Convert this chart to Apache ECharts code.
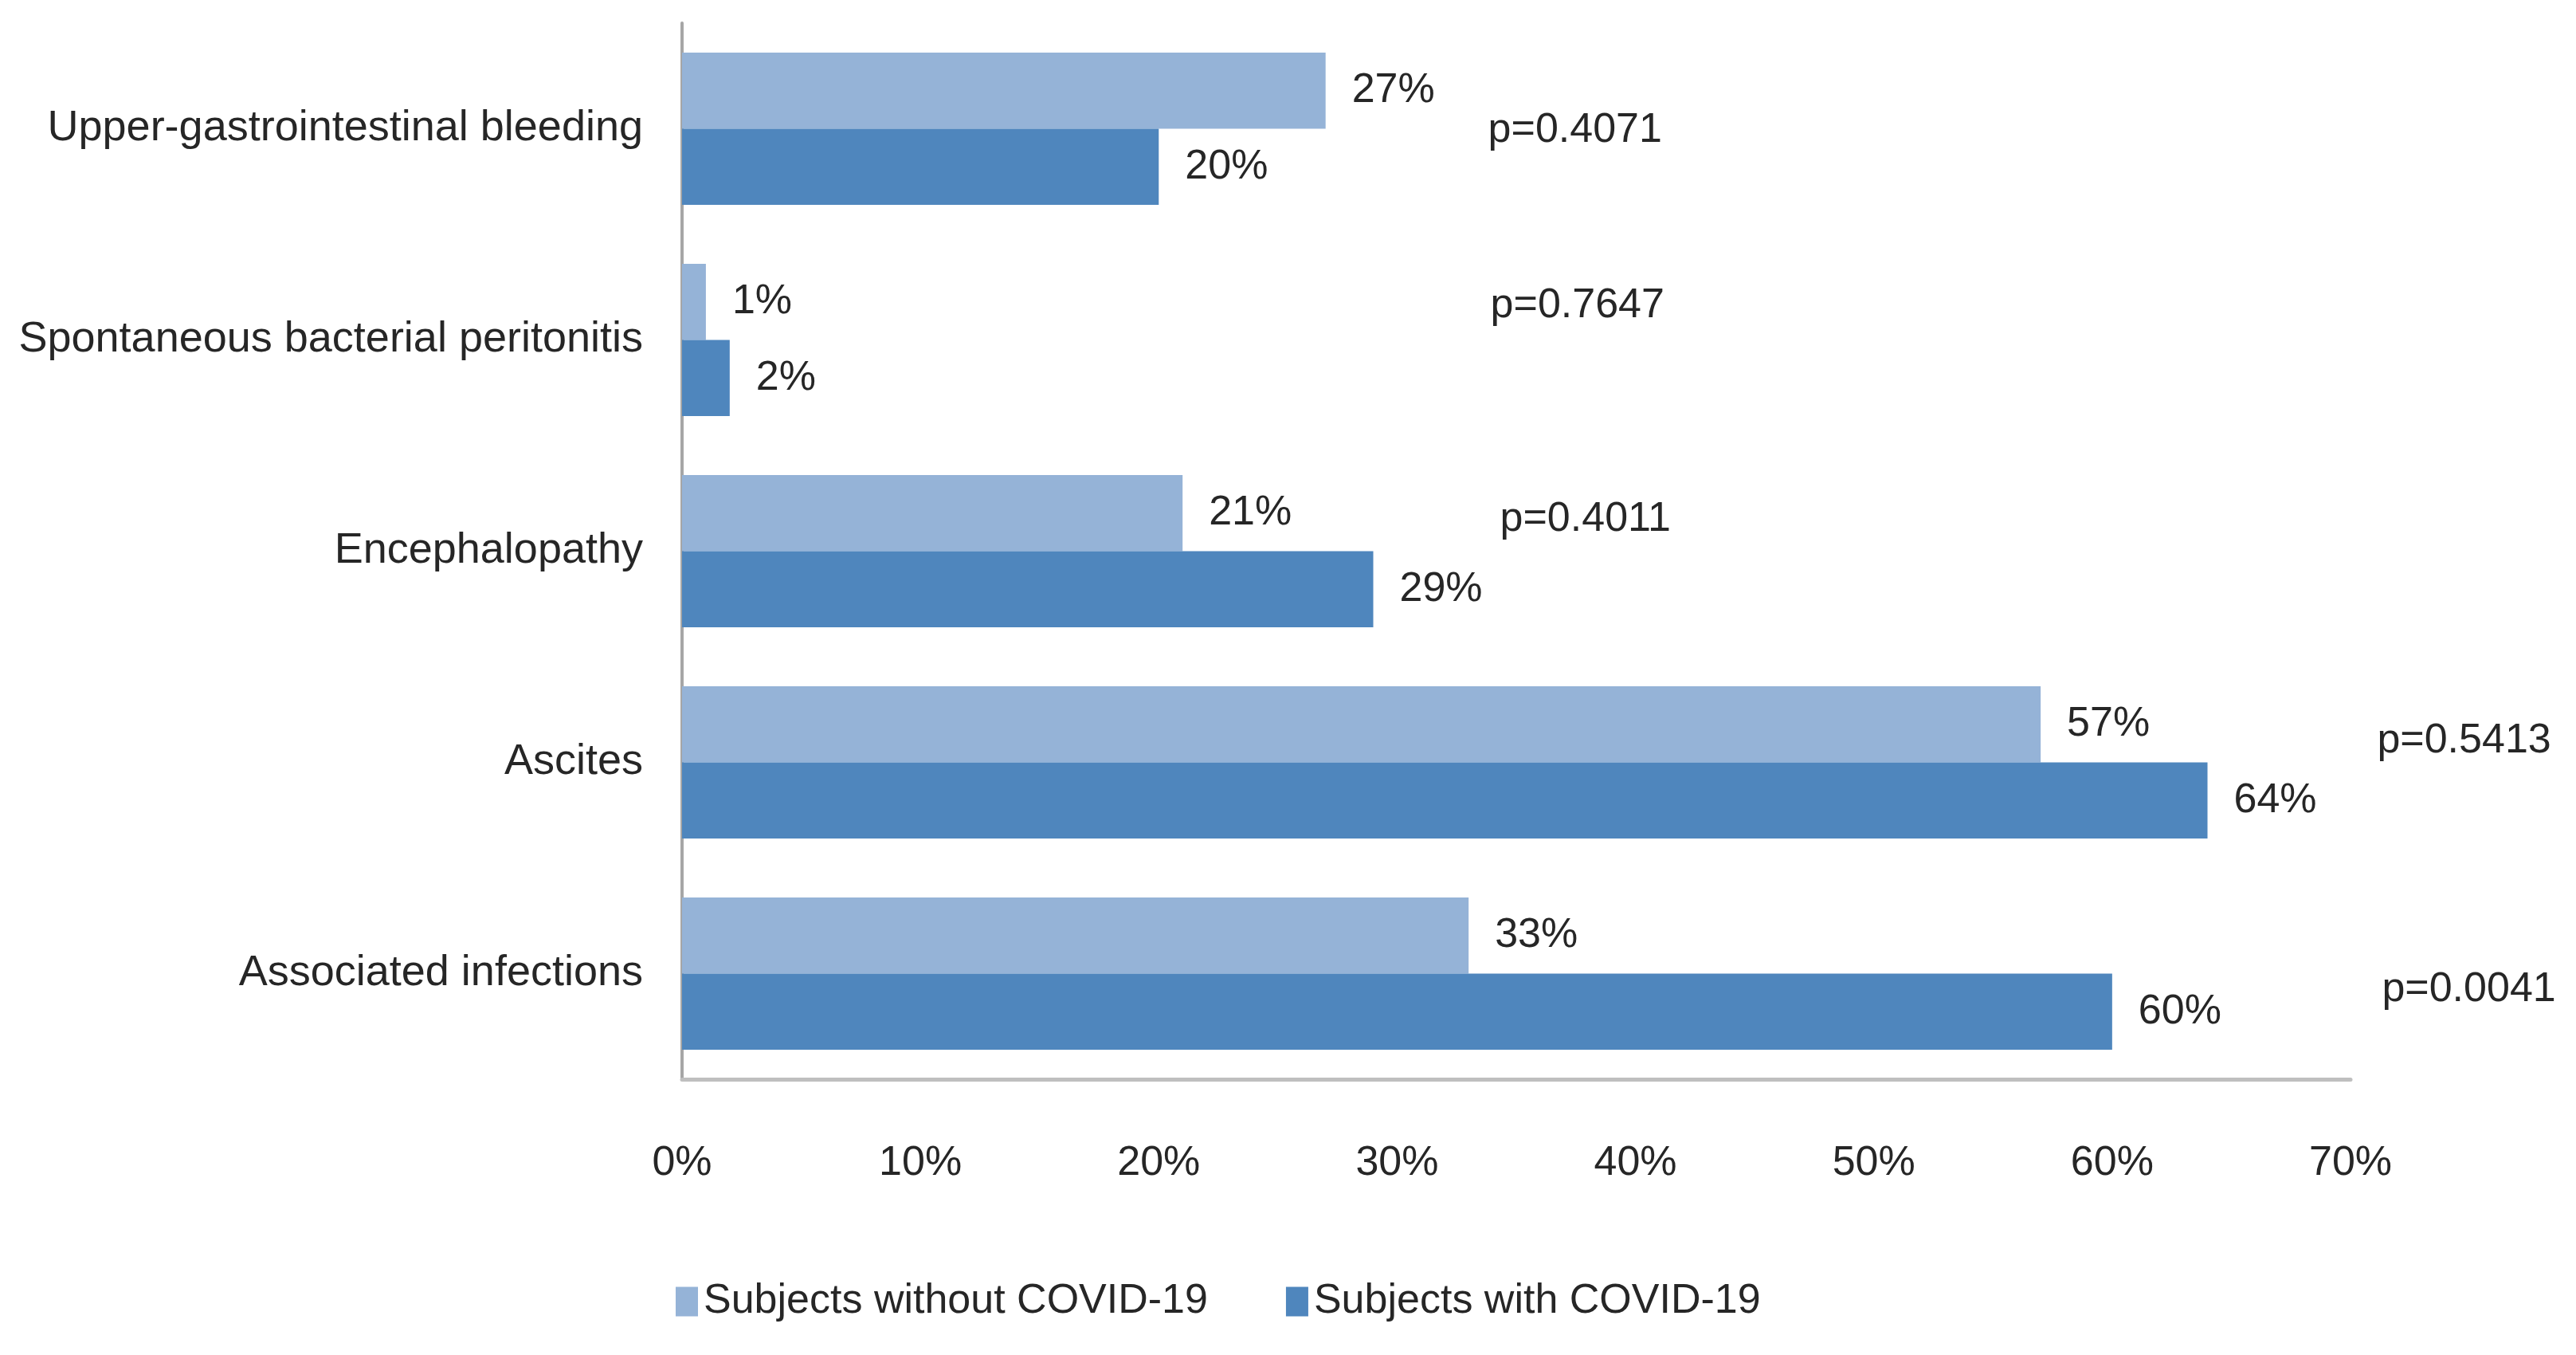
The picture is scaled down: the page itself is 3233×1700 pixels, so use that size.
<!DOCTYPE html>
<html>
<head>
<meta charset="utf-8">
<script src="https://cdn.jsdelivr.net/npm/echarts@6/dist/echarts.min.js"></script>
<style>
html,body{margin:0;padding:0;background:#fff;}
#chart{width:3233px;height:1700px;}
</style>
</head>
<body>
<div id="chart"></div>
<script>
const categories = ["Upper-gastrointestinal bleeding", "Spontaneous bacterial peritonitis", "Encephalopathy", "Ascites", "Associated infections"];
const seriesNames = ["Subjects without COVID-19", "Subjects with COVID-19"];
const withoutCovid = [27, 1, 21, 57, 33];
const withCovid = [20, 2, 29, 64, 60];
const pValues = ["p=0.4071", "p=0.7647", "p=0.4011", "p=0.5413", "p=0.0041"];
// annotation anchor: [x value (%), category row position]
const pPositions = [[33.8, 0.01], [33.9, 0.84], [34.3, 1.85], [71.1, 2.9], [71.3, 4.075]];
const xTicks = [0, 10, 20, 30, 40, 50, 60, 70];

const FONT = "'Liberation Sans', Arial, sans-serif";
const TXT = '#262626';

const chart = echarts.init(document.getElementById('chart'));
chart.setOption({
  backgroundColor: '#ffffff',
  animation: false,
  textStyle: { fontFamily: FONT, color: TXT },
  grid: { left: 856, right: 283, top: 29, bottom: 346, containLabel: false, outerBoundsMode: 'none' },
  legend: {
    data: seriesNames,
    left: 843, top: 1602,
    itemWidth: 28, itemHeight: 37, itemGap: 98,
    icon: 'rect',
    textStyle: { fontFamily: FONT, fontSize: 52, color: TXT, padding: [0, 0, 0, 2] }
  },
  xAxis: {
    type: 'value', min: xTicks[0], max: xTicks[xTicks.length - 1], interval: 10,
    axisLine: { show: true, onZero: false, lineStyle: { color: '#BFBFBF', width: 5 } },
    axisTick: { show: false },
    splitLine: { show: false },
    axisLabel: { formatter: '{value}%', fontFamily: FONT, fontSize: 52, color: TXT, margin: 80 }
  },
  yAxis: [{
    type: 'category', data: categories, inverse: true,
    axisLine: { show: true, lineStyle: { color: '#A6A6A6', width: 4 } },
    axisTick: { show: false },
    axisLabel: { fontFamily: FONT, fontSize: 54, color: TXT, margin: 49 }
  }, {
    type: 'value', min: -0.5, max: 4.5, inverse: true, show: false,
    axisLine: { show: false }, splitLine: { show: false }, axisLabel: { show: false }, axisTick: { show: false }
  }],
  series: [{
    name: seriesNames[0], type: 'bar', data: withoutCovid,
    barGap: '0%', barCategoryGap: '28%',
    itemStyle: { color: '#95B3D7' },
    label: { show: true, position: 'right', distance: 33, formatter: '{c}%', fontFamily: FONT, fontSize: 52, color: TXT }
  }, {
    name: seriesNames[1], type: 'bar', data: withCovid,
    barGap: '0%', barCategoryGap: '28%',
    itemStyle: { color: '#4F86BD' },
    label: { show: true, position: 'right', distance: 33, formatter: '{c}%', fontFamily: FONT, fontSize: 52, color: TXT }
  }, {
    type: 'scatter', yAxisIndex: 1, symbolSize: 1, clip: false, silent: true,
    itemStyle: { opacity: 0 },
    data: pPositions.map((p, i) => ({ value: p, name: pValues[i] })),
    label: { show: true, position: 'right', distance: 0, opacity: 1, formatter: '{b}', fontFamily: FONT, fontSize: 52, color: TXT }
  }]
});
</script>
</body>
</html>
